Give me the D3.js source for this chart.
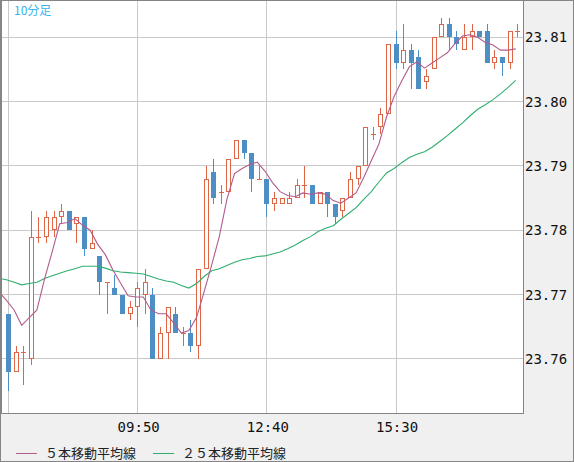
<!DOCTYPE html>
<html>
<head>
<meta charset="utf-8">
<script src="https://cdn.jsdelivr.net/npm/d3@7"></script>
<style>
  body { margin: 0; background: #f0f0f0; }
  svg { display: block; }
</style>
</head>
<body>
<svg id="chart" width="574" height="462"></svg>
<script>
// 10-minute bars
const times = [
  "07:00","07:10","07:20","07:30","07:40","07:50",
  "08:00","08:10","08:20","08:30","08:40","08:50",
  "09:00","09:10","09:20","09:30","09:40","09:50",
  "10:00","10:10","10:20","10:30","10:40","10:50",
  "11:00","11:10","11:20","11:30","11:40","11:50",
  "12:00","12:10","12:20","12:30","12:40","12:50",
  "13:00","13:10","13:20","13:30","13:40","13:50",
  "14:00","14:10","14:20","14:30","14:40","14:50",
  "15:00","15:10","15:20","15:30","15:40","15:50",
  "16:00","16:10","16:20","16:30","16:40","16:50",
  "17:00","17:10","17:20","17:30","17:40","17:50",
  "18:00","18:10"
];

const openVals = [
  23.767,23.758,23.761,23.760,23.779,23.779,23.780,23.782,23.783,23.781,
  23.782,23.777,23.776,23.772,23.771,23.770,23.767,23.768,23.770,23.770,
  23.760,23.764,23.767,23.764,23.764,23.762,23.774,23.789,23.786,23.786,
  23.791,23.794,23.792,23.788,23.788,23.784,23.784,23.784,23.785,23.787,
  23.787,23.784,23.786,23.784,23.783,23.785,23.788,23.790,23.795,23.796,
  23.798,23.809,23.806,23.808,23.807,23.803,23.805,23.810,23.812,23.810,
  23.808,23.810,23.811,23.811,23.806,23.807,23.806,23.811
];
const highVals = [
  23.767,23.762,23.762,23.783,23.782,23.783,23.783,23.784,23.783,23.782,
  23.782,23.780,23.776,23.772,23.773,23.770,23.769,23.772,23.774,23.771,
  23.765,23.768,23.768,23.765,23.766,23.774,23.790,23.791,23.787,23.791,
  23.794,23.794,23.792,23.790,23.788,23.786,23.785,23.786,23.788,23.790,
  23.787,23.786,23.786,23.784,23.785,23.789,23.790,23.796,23.796,23.799,
  23.809,23.811,23.812,23.809,23.808,23.805,23.810,23.813,23.813,23.811,
  23.812,23.812,23.811,23.812,23.808,23.807,23.811,23.812
];
const lowVals = [
  23.755,23.758,23.756,23.759,23.778,23.778,23.779,23.781,23.780,23.778,
  23.776,23.777,23.770,23.767,23.770,23.767,23.766,23.765,23.767,23.760,
  23.760,23.760,23.764,23.762,23.761,23.760,23.774,23.784,23.784,23.786,
  23.791,23.791,23.786,23.788,23.782,23.783,23.784,23.784,23.785,23.785,
  23.784,23.784,23.782,23.781,23.782,23.785,23.787,23.790,23.794,23.795,
  23.798,23.805,23.805,23.802,23.802,23.802,23.805,23.810,23.808,23.808,
  23.808,23.808,23.810,23.806,23.805,23.804,23.805,23.810
];
const closeVals = [
  23.758,23.761,23.761,23.779,23.779,23.782,23.782,23.783,23.780,23.782,
  23.777,23.778,23.772,23.772,23.770,23.767,23.768,23.771,23.772,23.760,
  23.764,23.768,23.764,23.764,23.762,23.774,23.788,23.785,23.786,23.791,
  23.794,23.792,23.788,23.788,23.784,23.785,23.785,23.785,23.787,23.787,
  23.784,23.786,23.784,23.782,23.785,23.788,23.790,23.796,23.795,23.798,
  23.809,23.806,23.808,23.806,23.802,23.804,23.810,23.812,23.810,23.809,
  23.810,23.811,23.810,23.806,23.807,23.806,23.811,23.811
];

// moving averages, first value belongs to the bar before 07:00
const ma5 = [
  23.7704,
  23.7691,23.7676,23.7652,23.7664,23.7676,23.7724,23.7766,23.7810,23.7812,23.7818,
  23.7808,23.7800,23.7778,23.7762,23.7738,23.7718,23.7698,23.7696,23.7696,23.7676,
  23.7670,23.7670,23.7656,23.7640,23.7644,23.7664,23.7704,23.7746,23.7790,23.7848,
  23.7888,23.7896,23.7902,23.7906,23.7892,23.7874,23.7860,23.7854,23.7852,23.7858,
  23.7856,23.7858,23.7856,23.7846,23.7842,23.7850,23.7858,23.7882,23.7908,23.7934,
  23.7976,23.8008,23.8032,23.8054,23.8062,23.8052,23.8060,23.8068,23.8076,23.8090,
  23.8102,23.8104,23.8100,23.8092,23.8088,23.8080,23.8080,23.8082
];
const ma25 = [
  23.7725,
  23.7723,23.7719,23.7715,23.7717,23.7719,23.7725,23.7729,23.7733,23.7737,23.7740,
  23.7744,23.7744,23.7744,23.7741,23.7737,23.7735,23.7734,23.7733,23.7732,23.7728,
  23.7724,23.7721,23.7719,23.7714,23.7710,23.7717,23.7728,23.7737,23.7740,23.7745,
  23.7750,23.7754,23.7756,23.7759,23.7760,23.7763,23.7766,23.7771,23.7777,23.7784,
  23.7790,23.7798,23.7803,23.7807,23.7817,23.7826,23.7835,23.7848,23.7860,23.7875,
  23.7889,23.7896,23.7905,23.7913,23.7918,23.7922,23.7929,23.7938,23.7947,23.7957,
  23.7967,23.7978,23.7988,23.7995,23.8003,23.8012,23.8022,23.8033
];

const yTicks = [23.76, 23.77, 23.78, 23.79, 23.80, 23.81];
const gridTimes = ["07:00", "09:50", "12:40", "15:30"];
const labelTimes = ["09:50", "12:40", "15:30"];
const legendNames = ["５本移動平均線", "２５本移動平均線"];

const upColor = "#de6647";
const downColor = "#4d8ec5";
const ma5Color = "#b35b8c";
const ma25Color = "#2fae6f";
const axisFont = "'DejaVu Sans Mono', monospace";
const cjkFont = "'Noto Sans CJK JP', sans-serif";

const svg = d3.select("#chart");

// outer frame and plot frame
svg.append("rect")
  .attr("x", 0.5).attr("y", 0.5).attr("width", 573).attr("height", 461)
  .attr("fill", "#f0f0f0").attr("stroke", "#858585");
svg.append("rect")
  .attr("x", 1.5).attr("y", 0.5).attr("width", 522).attr("height", 413)
  .attr("fill", "#fff").attr("stroke", "#858585");

svg.append("defs").append("clipPath").attr("id", "plotClip")
  .append("rect").attr("x", 2).attr("y", 1).attr("width", 521).attr("height", 412);

const x = d3.scaleLinear().domain([0, times.length - 1]).range([8.5, 517.7]);
const y = d3.scaleLinear().domain([23.76, 23.81]).range([358.8, 37.3]);
const xt = (t) => x(times.indexOf(t));
const crisp = (v) => Math.floor(v) + 0.5;
const px = (i) => Math.floor(x(i)); // pixel column of a candle centre

// grid
const grid = svg.append("g").attr("stroke", "#c9c9c9").attr("stroke-width", 1)
  .attr("shape-rendering", "crispEdges");
grid.selectAll(".hgrid").data(yTicks).join("line")
  .attr("x1", 2).attr("x2", 523)
  .attr("y1", (d) => crisp(y(d))).attr("y2", (d) => crisp(y(d)));
grid.selectAll(".vgrid").data(gridTimes).join("line")
  .attr("x1", (d) => crisp(xt(d))).attr("x2", (d) => crisp(xt(d)))
  .attr("y1", 1).attr("y2", 413);

// candles
const bars = times.map((t, i) => ({
  i: i, o: openVals[i], h: highVals[i], l: lowVals[i], c: closeVals[i]
}));
const plot = svg.append("g").attr("clip-path", "url(#plotClip)");
const candle = plot.selectAll("g.candle").data(bars).join("g")
  .attr("class", "candle").attr("shape-rendering", "crispEdges");

candle.append("line")
  .attr("x1", (d) => px(d.i) + 0.5).attr("x2", (d) => px(d.i) + 0.5)
  .attr("y1", (d) => Math.round(y(d.h))).attr("y2", (d) => Math.round(y(d.l)))
  .attr("stroke", (d) => (d.c < d.o ? downColor : upColor))
  .attr("stroke-width", 1);

candle.filter((d) => d.c > d.o).append("rect")
  .attr("x", (d) => px(d.i) - 1.5).attr("width", 4)
  .attr("y", (d) => Math.round(y(d.c)) + 0.5)
  .attr("height", (d) => Math.round(y(d.o)) - Math.round(y(d.c)) - 1)
  .attr("fill", "#fff").attr("stroke", upColor).attr("stroke-width", 1);

candle.filter((d) => d.c < d.o).append("rect")
  .attr("x", (d) => px(d.i) - 2).attr("width", 5)
  .attr("y", (d) => Math.round(y(d.o)))
  .attr("height", (d) => Math.round(y(d.c)) - Math.round(y(d.o)))
  .attr("fill", downColor);

candle.filter((d) => d.c === d.o).append("line")
  .attr("x1", (d) => px(d.i) - 2).attr("x2", (d) => px(d.i) + 3)
  .attr("y1", (d) => Math.round(y(d.c)) + 0.5).attr("y2", (d) => Math.round(y(d.c)) + 0.5)
  .attr("stroke", upColor).attr("stroke-width", 1);

// moving averages
const maLine = d3.line().x((d, k) => x(k - 1) - 2).y((d) => y(d));
plot.append("path").attr("d", maLine(ma25))
  .attr("fill", "none").attr("stroke", ma25Color).attr("stroke-width", 1.1);
plot.append("path").attr("d", maLine(ma5))
  .attr("fill", "none").attr("stroke", ma5Color).attr("stroke-width", 1.1);

// price labels
svg.selectAll(".ylab").data(yTicks).join("text")
  .attr("x", 525).attr("y", (d) => y(d) + 5)
  .attr("font-family", axisFont).attr("font-size", 14).attr("fill", "#111")
  .text((d) => d3.format(".2f")(d));

// time labels
svg.selectAll(".xlab").data(labelTimes).join("text")
  .attr("x", (d) => xt(d) + 1).attr("y", 432)
  .attr("text-anchor", "middle")
  .attr("font-family", axisFont).attr("font-size", 14).attr("fill", "#111")
  .text((d) => d);

// legend
const legend = svg.append("g").attr("transform", "translate(0, 453.5)");
const legendX = [16, 153];
const legendColors = [ma5Color, ma25Color];
legendNames.forEach(function (name, k) {
  legend.append("line")
    .attr("x1", legendX[k]).attr("x2", legendX[k] + 21)
    .attr("stroke", legendColors[k]).attr("stroke-width", 1);
  legend.append("text")
    .attr("x", legendX[k] + 29).attr("y", 4.5)
    .attr("font-family", cjkFont).attr("font-size", 13).attr("fill", "#222")
    .text(name);
});

// period label
svg.append("text")
  .attr("x", 14).attr("y", 15)
  .attr("font-family", cjkFont).attr("font-size", 12).attr("fill", "#3ab3ec")
  .text("10分足");
</script>
</body>
</html>
